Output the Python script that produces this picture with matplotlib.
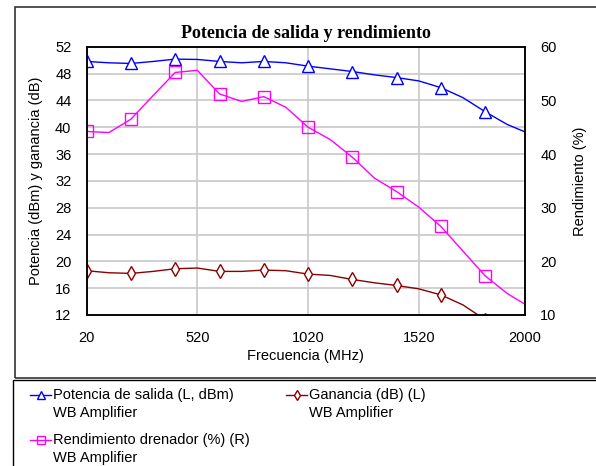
import numpy as np
import matplotlib
matplotlib.use("Agg")
import matplotlib.pyplot as plt
from matplotlib.patches import Rectangle
from matplotlib.legend_handler import HandlerLine2D

plt.rcParams['font.family'] = ['Liberation Sans', 'DejaVu Sans']
plt.rcParams['font.size'] = 10.5

# data
freq = [20, 120, 220, 320, 420, 520, 620, 720, 820, 920, 1020,
        1120, 1220, 1320, 1420, 1520, 1620, 1720, 1820, 1920, 2000]
potencia = [49.8, 49.6, 49.5, 49.8, 50.15, 50.1, 49.8, 49.6, 49.8, 49.6, 49.1,
            48.7, 48.3, 47.8, 47.4, 46.9, 45.9, 44.4, 42.3, 40.4, 39.3]
ganancia = [18.6, 18.3, 18.2, 18.5, 18.9, 19.0, 18.5, 18.5, 18.7, 18.6, 18.1,
            17.9, 17.3, 16.8, 16.4, 15.9, 15.0, 13.5, 11.3, 9.8, 8.8]
rendimiento = [44.2, 44.0, 46.5, 50.9, 55.2, 55.6, 51.2, 49.8, 50.7, 48.7, 45.0,
               42.7, 39.4, 35.5, 33.0, 30.1, 26.5, 21.9, 17.3, 14.0, 12.0]

xticks = [20, 520, 1020, 1520, 2000]
yticks_left = list(range(12, 53, 4))
yticks_right = list(range(10, 61, 10))

labels = ["Potencia de salida (L, dBm)\nWB Amplifier",
          "Ganancia (dB) (L)\nWB Amplifier",
          "Rendimiento drenador (%) (R)\nWB Amplifier"]

W, H = 596, 466
fig = plt.figure(figsize=(W / 100, H / 100), dpi=100)
ax = fig.add_axes([86.7 / W, 1 - 315 / H, (525 - 86.7) / W, (315 - 46.7) / H])
ax2 = ax.twinx()

marks = slice(0, 19, 2)
l1, = ax.plot(freq, potencia, color='#0000ff', lw=1, marker='^', markersize=8,
              markerfacecolor='white', markeredgecolor='#0000ff', markevery=marks)
l2, = ax.plot(freq, ganancia, color='#8b0000', lw=1, marker='d', markersize=7,
              markerfacecolor='white', markeredgecolor='#8b0000', markevery=marks)
l3, = ax2.plot(freq, rendimiento, color='#ff00ff', lw=1, marker='s', markersize=9,
               markerfacecolor='none', markeredgecolor='#ff00ff', markevery=marks)

ax.set_xlim(20, 2000)
ax.set_ylim(12, 52)
ax2.set_ylim(10, 60)
ax.set_xticks(xticks)
ax.set_yticks(yticks_left)
ax2.set_yticks(yticks_right)

ax.grid(True, color='#c8c8c8', lw=1.2)
ax.set_axisbelow(True)
for a in (ax, ax2):
    for s in a.spines.values():
        s.set_color('black')
        s.set_linewidth(1.1)
ax.tick_params(axis='y', length=0, pad=11)
ax.tick_params(axis='x', length=0, pad=11.5)
ax2.tick_params(axis='y', length=0, pad=11)

ax.set_title("Potencia de salida y rendimiento", fontfamily='Liberation Serif',
             fontweight='bold', fontsize=13, pad=6)
ax.set_xlabel("Frecuencia (MHz)")
ax.set_ylabel("Potencia (dBm) y ganancia (dB)")
ax2.set_ylabel("Rendimiento (%)")
ax.xaxis.set_label_coords(0.5, -0.127)
ax.yaxis.set_label_coords(-0.10, 0.5)
ax2.yaxis.set_label_coords(1.1095, 0.5)


class TopLine(HandlerLine2D):
    # put the legend sample beside the first text line
    def create_artists(self, legend, orig_handle, xdescent, ydescent,
                       width, height, fontsize, trans):
        arts = super().create_artists(legend, orig_handle, xdescent, ydescent,
                                      width, height, fontsize, trans)
        for a in arts:
            a.set_ydata(np.asarray(a.get_ydata()) + 0.65 * fontsize)
        return arts


leg = fig.legend([l1, l3, l2], [labels[0], labels[2], labels[1]], ncol=2,
                 loc='upper left', bbox_to_anchor=(23 / W, 1 - 381 / H),
                 frameon=False, borderpad=0, handlelength=1.45, handletextpad=0.1,
                 columnspacing=2.5, labelspacing=0.95, markerscale=0.7,
                 handler_map={type(l1): TopLine()})
for t in leg.get_texts():
    t.set_linespacing(1.3)

# outer frames of chart and legend
fig.add_artist(Rectangle((14.7 / W, 1 - 378 / H), 1.0, (378 - 7.3) / H,
                         transform=fig.transFigure, fill=False,
                         edgecolor='#333333', lw=1.2))
fig.add_artist(Rectangle((13.3 / W, -0.1), 1.0, 0.1 + 1 - 380 / H,
                         transform=fig.transFigure, fill=False,
                         edgecolor='black', lw=1.0))

fig.savefig("out.png", dpi=100)
